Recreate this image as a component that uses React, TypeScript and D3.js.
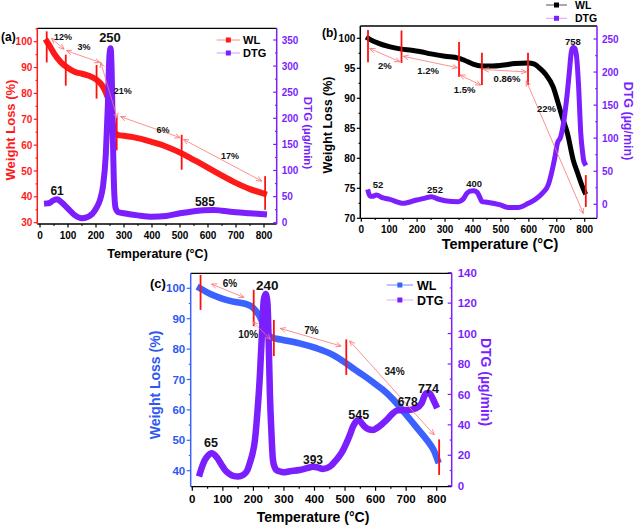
import React from "react";
import * as d3 from "d3";

const FONT = "'Liberation Sans', Arial, Helvetica, sans-serif";

// ---------------- Panel (a) data ----------------
const A_WL_T = [25, 35, 50, 75, 100, 125, 150, 175, 200, 215, 228, 240, 250, 258, 266, 280, 300, 333, 400, 452, 506, 540, 571, 620, 690, 750, 800];
const A_WL = [100, 98.3, 95.5, 92, 89.8, 88.3, 87.6, 86.8, 85.4, 84, 82, 79, 75.5, 69.5, 65, 63.9, 63.6, 63.1, 61.2, 59.4, 56.8, 54.8, 53, 50, 45.9, 43, 41.2];
const A_DTG_T = [25, 35, 45, 61, 75, 100, 125, 150, 175, 200, 215, 225, 235, 242, 248, 252, 256, 260, 265, 270, 280, 300, 350, 400, 450, 500, 550, 585, 620, 650, 700, 750, 800];
const A_DTG = [37, 38, 42, 45, 40, 27, 14, 8.5, 12, 27, 45, 70, 130, 220, 320, 334, 290, 170, 60, 28, 20, 18, 14, 11.5, 13, 18, 22, 24, 24.5, 23, 20, 18, 16];
const A_BAR_T = [24, 92, 202, 274, 506, 804];
const A_BAR_LO = [92, 83, 78, 58, 50.5, 35];
const A_BAR_HI = [104, 95, 91, 71, 64, 48];
const A_ARROWS = [[41, 101.3, 86, 97.1], [95, 96.5, 214, 92], [217, 92, 276, 70.4], [288, 71, 500, 62.9], [512, 62.2, 792, 46.1]];
const A_PCT = ["12%", "3%", "21%", "6%", "17%"];
const A_PCT_T = [82, 157, 296, 439, 679];
const A_PCT_W = [102, 98, 81, 66, 56];
const A_PEAKS = ["250", "61", "585"];
const A_PEAK_T = [250, 61, 589];
const A_PEAK_D = [356, 60.7, 39.7];
const A_WL_TICKS = [30, 40, 50, 60, 70, 80, 90, 100];
const A_DTG_TICKS = [0, 50, 100, 150, 200, 250, 300, 350];

// ---------------- Panel (b) data ----------------
const B_WL_T = [25, 40, 60, 100, 143, 180, 209, 250, 299, 347, 371, 400, 430, 470, 502, 550, 597, 620, 639, 660, 687, 705, 720, 738, 759, 775, 790, 800];
const B_WL = [100, 99.6, 99.2, 98.6, 98.2, 98, 97.8, 97.4, 97, 96.7, 96.3, 95.7, 95.4, 95.4, 95.5, 95.8, 95.9, 95.7, 95, 94, 91.9, 89.2, 86.8, 84.2, 79.7, 77.5, 75.5, 74.4];
const B_DTG_T = [25, 30, 40, 54, 75, 102, 150, 198, 225, 252, 275, 300, 348, 365, 378, 390, 402, 415, 425, 432, 450, 498, 528, 560, 598, 625, 648, 670, 681, 695, 702, 714, 725, 735, 745, 752, 758, 765, 771, 778, 786, 792, 796, 800];
const B_DTG = [19, 13, 12, 14, 10, 7.5, 1.5, 6.5, 9, 11.5, 8, 5.5, 4, 8, 16.6, 20, 20.6, 18, 10, 4, 3, -1, -5, -5, 1.5, 8, 16.6, 30, 47, 75, 92, 102, 125, 158, 200, 230, 237, 236, 223, 180, 107, 80, 67, 62];
const B_BAR_T = [24, 144, 350, 432, 597, 804];
const B_BAR_LO = [96, 95.9, 93.6, 92.2, 92.2, 71.9];
const B_BAR_HI = [101.4, 101.3, 99.4, 97.6, 97.6, 77.2];
const B_ARROWS = [[30, 98.3, 138, 96.1], [150, 97, 344, 95.1], [353, 93.9, 428, 92.2], [438, 94.8, 591, 94.4], [591, 92.9, 795, 70.8]];
const B_PCT = ["2%", "1.2%", "1.5%", "0.86%", "22%"];
const B_PCT_T = [84, 239, 370, 522, 663];
const B_PCT_W = [95.4, 94.7, 91.5, 93.3, 88.3];
const B_PEAKS = ["52", "252", "400", "758"];
const B_PEAK_T = [60, 264, 404, 758];
const B_PEAK_D = [30, 23, 32, 246];
const B_WL_TICKS = [70, 75, 80, 85, 90, 95, 100];
const B_DTG_TICKS = [0, 50, 100, 150, 200, 250];

// ---------------- Panel (c) data ----------------
const C_WL_T = [25, 50, 79, 100, 134, 177, 199, 210, 221, 230, 237, 245, 252, 259, 275, 297, 351, 406, 460, 504, 530, 558, 590, 624, 650, 678, 705, 732, 755, 776, 790, 803];
const C_WL = [100, 98.6, 97.3, 96.5, 95.6, 94.8, 93.6, 92.3, 90.7, 88.5, 86.3, 85, 84.3, 83.9, 83.4, 83, 81.9, 80.3, 78.1, 75.3, 73.4, 71.5, 69.2, 66.6, 64.2, 61.1, 57.8, 54.5, 51.7, 49, 46.8, 43.5];
const C_DTG_T = [25, 33, 41, 50, 63, 79, 95, 107, 120, 134, 150, 166, 180, 188, 197, 205, 213, 221, 228, 234, 240, 246, 250, 254, 259, 264, 270, 275, 285, 297, 320, 351, 375, 395, 410, 428, 450, 471, 490, 504, 515, 526, 535, 545, 555, 564, 578, 591, 605, 624, 640, 656, 672, 689, 710, 732, 750, 765, 775, 781, 790, 797];
const C_DTG = [8.1, 13, 16.9, 19.5, 21.3, 19, 14, 10.3, 8, 6.4, 6, 7, 10, 14.7, 21, 30, 48, 71.6, 100, 122, 126, 120, 95, 60.7, 35, 16.9, 12, 10.3, 9.5, 8.8, 9.5, 10.3, 11.5, 12.5, 12, 11, 12.5, 16.9, 22, 27.8, 33, 38.8, 42, 43.2, 41, 38.8, 37, 36.6, 38, 41, 44, 47.5, 49.5, 49.7, 49.8, 50.8, 54, 60.7, 61, 59.6, 56, 53];
const C_BAR_T = [27, 201, 267, 504, 808];
const C_BAR_LO = [92.9, 87.6, 77.7, 71.5, 38.6];
const C_BAR_HI = [104.4, 99.5, 89.6, 83.2, 50.3];
const C_ARROWS = [[63, 101.4, 169, 97], [199, 89, 256, 83.2], [288, 86.8, 487, 81], [515, 82.7, 792, 51.8]];
const C_PCT = ["6%", "10%", "7%", "34%"];
const C_PCT_T = [123, 183, 390, 662];
const C_PCT_W = [101.6, 85, 86.1, 72.8];
const C_PEAKS = ["240", "65", "393", "545", "678", "774"];
const C_PEAK_T = [245, 61, 395, 545, 705, 773];
const C_PEAK_D = [132, 28.3, 16.9, 46.5, 55.2, 64];
const C_WL_TICKS = [40, 50, 60, 70, 80, 90, 100];
const C_DTG_TICKS = [0, 20, 40, 60, 80, 100, 120, 140];

const T_TICKS = [0, 100, 200, 300, 400, 500, 600, 700, 800];
const LEGEND_NAMES = ["WL", "DTG"];

const PURPLE = "#7b1fff";
const ARROW = "#ff7373";

function Panel({ c }: { c: any }) {
  const x = d3.scaleLinear().domain([0, 800]).range(c.xRange);
  const yl = d3.scaleLinear().domain(c.wlDomain).range(c.wlRange);
  const yr = d3.scaleLinear().domain(c.dtgDomain).range(c.dtgRange);
  const { l, r, t, b } = c.frame;
  const wlLine = d3.line<number>().x((_, i) => x(c.wlT[i])).y((d) => yl(d)).curve(d3.curveMonotoneX);
  const dtgLine = d3.line<number>().x((_, i) => x(c.dtgT[i])).y((d) => yr(d)).curve(d3.curveMonotoneX);
  const fs = c.tickFont;
  const wlStep = c.wlTicks[1] - c.wlTicks[0];
  const dtgStep = c.dtgTicks[1] - c.dtgTicks[0];
  const wlMinor = c.wlTicks.map((v: number) => v + wlStep / 2).filter((v: number) => yl(v) >= t);
  const dtgMinor = c.dtgTicks.map((v: number) => v + dtgStep / 2).filter((v: number) => yr(v) >= t);
  const xMinor = T_TICKS.map((v) => v + 50).filter((v) => x(v) <= r);
  const tl = c.tickLen;
  return (
    <g fontFamily={FONT} fontWeight="bold">
      <path d={wlLine(c.wl) || ""} fill="none" stroke={c.wlColor} strokeWidth={c.lw} strokeLinejoin="round" strokeLinecap="square" />
      <path d={dtgLine(c.dtg) || ""} fill="none" stroke={PURPLE} strokeWidth={c.lw} strokeLinejoin="round" strokeLinecap="square" />
      {/* frame */}
      <line x1={l} x2={r} y1={t} y2={t} stroke="#000" strokeWidth={1.3} />
      <line x1={l} x2={r} y1={b} y2={b} stroke="#000" strokeWidth={1.3} />
      <line x1={l} x2={l} y1={t} y2={b} stroke={c.leftColor} strokeWidth={1.5} />
      <line x1={r} x2={r} y1={t} y2={b} stroke={PURPLE} strokeWidth={1.5} />
      {/* x ticks */}
      {T_TICKS.map((v) => (
        <g key={"xt" + v}>
          <line x1={x(v)} x2={x(v)} y1={b} y2={b + tl} stroke="#000" strokeWidth={1.2} />
          <text x={x(v)} y={b + tl + fs + 1} fontSize={fs} textAnchor="middle" fill="#000">{v}</text>
        </g>
      ))}
      {xMinor.map((v) => (
        <line key={"xm" + v} x1={x(v)} x2={x(v)} y1={b} y2={b + tl / 2} stroke="#000" strokeWidth={1.2} />
      ))}
      {/* left ticks */}
      {c.wlTicks.map((v: number) => (
        <g key={"lt" + v}>
          <line x1={l - tl} x2={l} y1={yl(v)} y2={yl(v)} stroke={c.leftColor} strokeWidth={1.2} />
          <text x={l - tl - 1.5} y={yl(v) + fs * 0.36} fontSize={fs} textAnchor="end" fill={c.leftText}>{v}</text>
        </g>
      ))}
      {wlMinor.map((v: number) => (
        <line key={"lm" + v} x1={l - tl / 2} x2={l} y1={yl(v)} y2={yl(v)} stroke={c.leftColor} strokeWidth={1.2} />
      ))}
      {/* right ticks (inward) */}
      {c.dtgTicks.map((v: number) => (
        <g key={"rt" + v}>
          <line x1={r - tl} x2={r} y1={yr(v)} y2={yr(v)} stroke={PURPLE} strokeWidth={1.2} />
          <text x={r + c.rightGap} y={yr(v) + fs * 0.36} fontSize={fs} textAnchor="start" fill={PURPLE}>{v}</text>
        </g>
      ))}
      {dtgMinor.map((v: number) => (
        <line key={"rm" + v} x1={r - tl / 2} x2={r} y1={yr(v)} y2={yr(v)} stroke={PURPLE} strokeWidth={1.2} />
      ))}
      {/* vertical red bars */}
      {c.barT.map((v: number, i: number) => (
        <line key={"bar" + i} x1={x(v)} x2={x(v)} y1={yl(c.barLo[i])} y2={yl(c.barHi[i])} stroke="#ff1010" strokeWidth={1.8} />
      ))}
      {/* arrows */}
      {c.arrows.map((a: number[], i: number) => (
        <line key={"ar" + i} x1={x(a[0])} y1={yl(a[1])} x2={x(a[2])} y2={yl(a[3])} stroke={ARROW} strokeWidth={0.8} markerStart="url(#ah)" markerEnd="url(#ah)" />
      ))}
      {c.pct.map((s: string, i: number) => (
        <text key={"pc" + i} x={x(c.pctT[i])} y={yl(c.pctW[i]) + c.pctFont * 0.36} fontSize={c.pctFont} textAnchor="middle" fill="#111">{s}</text>
      ))}
      {c.peaks.map((s: string, i: number) => (
        <text key={"pk" + i} x={x(c.peakT[i])} y={yr(c.peakD[i]) + c.peakFonts[i] * 0.36} fontSize={c.peakFonts[i]} textAnchor="middle" fill="#111">{s}</text>
      ))}
      {/* legend */}
      {LEGEND_NAMES.map((n, i) => {
        const ly = c.legend.y + i * c.legend.dy;
        const lc = i === 0 ? c.legWlLine : c.legDtgLine;
        const mc = i === 0 ? c.wlColor : PURPLE;
        return (
          <g key={"lg" + n}>
            <line x1={c.legend.x0} x2={c.legend.x1} y1={ly} y2={ly} stroke={lc} strokeWidth={1} />
            <rect x={(c.legend.x0 + c.legend.x1) / 2 - 2.5} y={ly - 2.5} width={5} height={5} fill={mc} />
            <text x={c.legend.tx} y={ly + c.legend.fs * 0.36} fontSize={c.legend.fs} fill="#000">{n}</text>
          </g>
        );
      })}
      {/* titles */}
      <text x={c.xTitle.x} y={c.xTitle.y} fontSize={c.xTitle.fs} textAnchor="middle" fill="#000">Temperature (°C)</text>
      <text transform={`translate(${c.lTitle.x},${c.lTitle.y}) rotate(-90)`} fontSize={c.lTitle.fs} textAnchor="middle" dominantBaseline="central" fill={c.leftText}>Weight Loss (%)</text>
      <text transform={`translate(${c.rTitle.x},${c.rTitle.y}) rotate(90)`} fontSize={c.rTitle.fs} textAnchor="middle" dominantBaseline="central" fill={PURPLE}>DTG (µg/min)</text>
      <text x={c.tag.x} y={c.tag.y} fontSize={c.tag.fs} fill="#000">{c.tag.s}</text>
    </g>
  );
}

export default function App() {
  const panelA = {
    xRange: [40, 264], frame: { l: 37.3, r: 276.7, t: 28.3, b: 224 },
    wlDomain: [30, 100], wlRange: [222.7, 41.7], dtgDomain: [0, 350], dtgRange: [222.7, 40],
    wlT: A_WL_T, wl: A_WL, dtgT: A_DTG_T, dtg: A_DTG, wlColor: "#ff1a1a", leftColor: "#ff1a1a", leftText: "#ff1a1a",
    lw: 6, tickFont: 10, tickLen: 3.5, rightGap: 5,
    wlTicks: A_WL_TICKS, dtgTicks: A_DTG_TICKS,
    barT: A_BAR_T, barLo: A_BAR_LO, barHi: A_BAR_HI, arrows: A_ARROWS,
    pct: A_PCT, pctT: A_PCT_T, pctW: A_PCT_W, pctFont: 9,
    peaks: A_PEAKS, peakT: A_PEAK_T, peakD: A_PEAK_D, peakFonts: [13, 12, 12],
    legend: { x0: 216.7, x1: 240, y: 40, dy: 13, tx: 243, fs: 11 },
    legWlLine: "#ff8c8c", legDtgLine: "#c8a0ff",
    xTitle: { x: 157.5, y: 258, fs: 12.5 }, lTitle: { x: 10, y: 130, fs: 13 }, rTitle: { x: 308, y: 133, fs: 11.5 },
    tag: { x: 1, y: 41, fs: 12, s: "(a)" },
  };
  const panelB = {
    xRange: [361.3, 584.7], frame: { l: 360.3, r: 597, t: 26, b: 218.3 },
    wlDomain: [70, 100], wlRange: [218.3, 38.3], dtgDomain: [0, 250], dtgRange: [204.3, 39],
    wlT: B_WL_T, wl: B_WL, dtgT: B_DTG_T, dtg: B_DTG, wlColor: "#000", leftColor: "#000", leftText: "#000",
    lw: 5, tickFont: 10, tickLen: 3.5, rightGap: 5,
    wlTicks: B_WL_TICKS, dtgTicks: B_DTG_TICKS,
    barT: B_BAR_T, barLo: B_BAR_LO, barHi: B_BAR_HI, arrows: B_ARROWS,
    pct: B_PCT, pctT: B_PCT_T, pctW: B_PCT_W, pctFont: 9.5,
    peaks: B_PEAKS, peakT: B_PEAK_T, peakD: B_PEAK_D, peakFonts: [9.5, 9.5, 9.5, 9.5],
    legend: { x0: 546, x1: 567, y: 5, dy: 13.3, tx: 575, fs: 10.5 },
    legWlLine: "#555", legDtgLine: "#e09cff",
    xTitle: { x: 500, y: 249, fs: 14.5 }, lTitle: { x: 328, y: 125, fs: 12.5 }, rTitle: { x: 628, y: 121, fs: 12.5 },
    tag: { x: 322, y: 37, fs: 12, s: "(b)" },
  };
  const panelC = {
    xRange: [192.3, 436.7], frame: { l: 190.7, r: 451.7, t: 273.3, b: 486.7 },
    wlDomain: [40, 100], wlRange: [470.7, 288.3], dtgDomain: [0, 140], dtgRange: [485.7, 272.7],
    wlT: C_WL_T, wl: C_WL, dtgT: C_DTG_T, dtg: C_DTG, wlColor: "#3b62ff", leftColor: "#3b62ff", leftText: "#2e58f0",
    lw: 6.5, tickFont: 11.5, tickLen: 4, rightGap: 6,
    wlTicks: C_WL_TICKS, dtgTicks: C_DTG_TICKS,
    barT: C_BAR_T, barLo: C_BAR_LO, barHi: C_BAR_HI, arrows: C_ARROWS,
    pct: C_PCT, pctT: C_PCT_T, pctW: C_PCT_W, pctFont: 10,
    peaks: C_PEAKS, peakT: C_PEAK_T, peakD: C_PEAK_D, peakFonts: [13.5, 12.5, 12, 12.5, 12, 12.5],
    legend: { x0: 386.7, x1: 413, y: 285, dy: 15, tx: 417, fs: 12.5 },
    legWlLine: "#6f8cff", legDtgLine: "#d8b0ff",
    xTitle: { x: 313, y: 522, fs: 14 }, lTitle: { x: 155, y: 385, fs: 14 }, rTitle: { x: 486, y: 382, fs: 14 },
    tag: { x: 150, y: 288, fs: 13, s: "(c)" },
  };
  return (
    <svg width={638} height={527} style={{ position: "absolute", left: 0, top: 0, background: "#fff" }}>
      <defs>
        <marker id="ah" viewBox="0 0 10 10" refX="9" refY="5" markerWidth="6" markerHeight="6" markerUnits="userSpaceOnUse" orient="auto-start-reverse">
          <path d="M0,1 L9,5 L0,9" fill="none" stroke={ARROW} strokeWidth={1.3} />
        </marker>
      </defs>
      <rect width={638} height={527} fill="#fff" />
      <Panel c={panelA} />
      <Panel c={panelB} />
      <Panel c={panelC} />
    </svg>
  );
}
